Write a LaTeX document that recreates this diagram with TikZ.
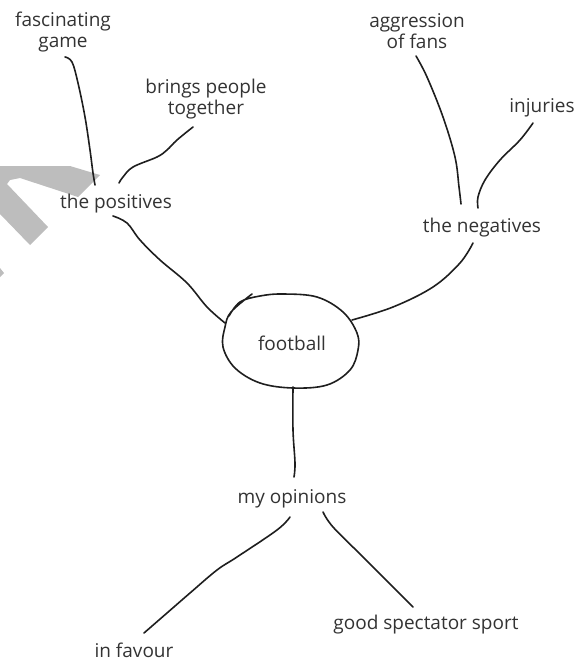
\documentclass[tikz,border=0pt]{standalone}
\usepackage{fontspec}
\setmainfont{Open Sans}
\definecolor{txt}{HTML}{333333}
\definecolor{ink}{HTML}{1E1E1E}
\definecolor{wm}{HTML}{BDBDBD}
\begin{document}
\begin{tikzpicture}[x=1pt,y=-1pt,
  lbl/.style={inner sep=0pt, text=txt, align=center, font=\fontsize{19}{21.5}\selectfont},
  con/.style={draw=ink, line width=1.6pt, line cap=round, line join=round}]
\useasboundingbox (0,0) rectangle (586,661);
% watermark
\fill[wm] (0,166) -- (70,166) -- (100,175) -- (78,197) -- (20,178) -- (10,180) -- (7,184) -- (48,227) -- (30,245) -- (0,214) -- cycle;
\fill[wm] (0,268) -- (4,273) -- (0,277) -- cycle;
% nodes
\node[lbl] (fg)   at (63,32)  {fascinating\\game};
\node[lbl] (bp)   at (206,99) {brings people\\together};
\node[lbl] (pos)  at (116,204) {the positives};
\node[lbl] (agg)  at (417,31) {aggression\\of fans};
\node[lbl] (inj)  at (542,108) {injuries};
\node[lbl] (neg)  at (482,228) {the negatives};
\node[lbl] (foot) at (292,343) {football};
\node[lbl] (op)   at (292,499) {my opinions};
\node[lbl] (fav)  at (134,650) {in favour};
\node[lbl] (good) at (426,625) {good spectator sport};
% hand-drawn loop around football
\draw[con] plot[smooth, tension=0.6] coordinates {
  ([shift={(-63,-27)}]foot.center) (240,302) (260,296) (283,294) (317,297) (343,312) (357,333) (358,350)
  (350,370) (327,385) (293,388) (260,383) (235,368) (223,347) (225,327) (231,312) (252,294)};
% connectors
\draw[con] plot[smooth, tension=0.6] coordinates {([shift={(2,25)}]fg.center) (72,62) (78,83) (85,117) (90,150) (93,173) ([shift={(-21,-19)}]pos.center)};
\draw[con] plot[smooth, tension=0.6] coordinates {([shift={(-13,28)}]bp.center) (177,140) (167,150) (157,157) (133,167) (123,177) ([shift={(3,-21)}]pos.center)};
\draw[con] plot[smooth, tension=0.6] coordinates {([shift={(-3,12)}]pos.center) (127,223) (140,240) (160,260) (187,283) (207,307) ([shift={(-67,-20)}]foot.center)};
\draw[con] plot[smooth, tension=0.6] coordinates {([shift={(-1,25)}]agg.center) (427,77) (443,117) (455,157) (459,187) ([shift={(-21,-24)}]neg.center)};
\draw[con] plot[smooth, tension=0.6] coordinates {([shift={(-9,15)}]inj.center) (520,140) (500,160) (485,180) (478,197) ([shift={(-4,-20)}]neg.center)};
\draw[con] plot[smooth, tension=0.6] coordinates {([shift={(-9,15)}]neg.center) (460,263) (433,287) (393,307) ([shift={(60,-23)}]foot.center)};
\draw[con] plot[smooth, tension=0.6] coordinates {([shift={(1,44)}]foot.center) (293,430) (295,463) ([shift={(2,-22)}]op.center)};
\draw[con] plot[smooth, tension=0.6] coordinates {([shift={(-2,18)}]op.center) (277,530) (237,557) (217,570) (190,593) (167,613) ([shift={(10,-17)}]fav.center)};
\draw[con] plot[smooth, tension=0.6] coordinates {([shift={(31,13)}]op.center) (333,527) (363,557) ([shift={(-13,-18)}]good.center)};
\end{tikzpicture}
\end{document}
